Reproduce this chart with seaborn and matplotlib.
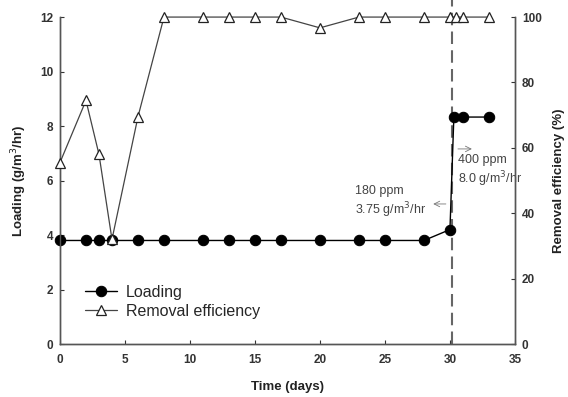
#%% IMPORTS
import numpy as np
import pandas as pd
import seaborn as sns
from matplotlib import pyplot as plt

#%% DATA
load_days = [0, 2, 3, 4, 6, 8, 11, 13, 15, 17, 20, 23, 25, 28, 30, 30.3, 31, 33]
loading = [3.8, 3.8, 3.8, 3.8, 3.8, 3.8, 3.8, 3.8, 3.8, 3.8, 3.8, 3.8, 3.8, 3.8,
           4.2, 8.33, 8.33, 8.33]

eff_days = [0, 2, 3, 4, 6, 8, 11, 13, 15, 17, 20, 23, 25, 28, 30, 30.5, 31, 33]
removal_eff = [55.5, 74.5, 58, 32, 69.5, 100, 100, 100, 100, 100, 96.7, 100,
               100, 100, 100, 100, 100, 100]

x_ticks = [0, 5, 10, 15, 20, 25, 30, 35]
left_ticks = [0, 2, 4, 6, 8, 10, 12]
right_ticks = [0, 20, 40, 60, 80, 100]
switch_day = 30.15

df_load = pd.DataFrame({"day": load_days, "loading": loading})
df_eff = pd.DataFrame({"day": eff_days, "eff": removal_eff})

#%% STYLE
sns.set_style("ticks")
plt.rcParams['font.family'] = ['Liberation Sans', 'DejaVu Sans']
axis_col = "#333333"

#%% PLOT
fig = plt.figure(figsize=(5.68, 3.97), dpi=100)
ax = fig.add_axes([0.1056, 0.1335, 0.801, 0.8235])
ax2 = ax.twinx()

sns.lineplot(data=df_load, x="day", y="loading", ax=ax, sort=False,
             color="black", lw=1.0, marker="o", markersize=7.5,
             markeredgecolor="black", markerfacecolor="black",
             label="Loading", legend=False, clip_on=False, zorder=4)
sns.lineplot(data=df_eff, x="day", y="eff", ax=ax2, sort=False,
             color="#444444", lw=0.9, marker="^", markersize=7.5,
             markeredgecolor="#222222", markerfacecolor="white",
             markeredgewidth=0.9, label="Removal efficiency", legend=False,
             clip_on=False, zorder=4)

ax.axvline(switch_day, ymin=0, ymax=1.052, color="#666666", lw=1.5,
           ls=(0, (6, 3)), zorder=1, clip_on=False)

ax.set_xlim(0, 35)
ax.set_ylim(0, 12)
ax2.set_ylim(0, 100)
ax.set_xticks(x_ticks)
ax.set_yticks(left_ticks)
ax2.set_yticks(right_ticks)

for a in (ax, ax2):
    a.tick_params(direction="in", length=3, width=0.8, colors=axis_col,
                  labelsize=8.5, pad=5)
    for lab in a.get_xticklabels() + a.get_yticklabels():
        lab.set_fontweight("bold")
    for s in a.spines.values():
        s.set_color("#555555")
        s.set_linewidth(1.0)
    a.spines["top"].set_visible(False)
ax.tick_params(axis="x", pad=7)

ax.set_xlabel("Time (days)", fontsize=9.5, fontweight="bold", color="#222222",
              labelpad=11)
ax.set_ylabel("Loading (g/m$^3$/hr)", fontsize=9.5, fontweight="bold",
              color="#222222", labelpad=8)
ax2.set_ylabel("Removal efficiency (%)", fontsize=9.5, fontweight="bold",
               color="#222222", labelpad=8)

# annotations
txt_col = "#444444"
ax.annotate("", xy=(28.5, 5.14), xytext=(29.9, 5.14),
            arrowprops=dict(arrowstyle="->", color="#777777", lw=0.6))
ax.text(22.7, 5.2, "180 ppm\n3.75 g/m$^3$/hr", fontsize=9, color=txt_col,
        va="center", ha="left", linespacing=1.2)
ax.annotate("", xy=(31.9, 7.16), xytext=(30.4, 7.16),
            arrowprops=dict(arrowstyle="->", color="#777777", lw=0.6))
ax.text(30.6, 6.33, "400 ppm\n8.0 g/m$^3$/hr", fontsize=9, color=txt_col,
        va="center", ha="left", linespacing=1.3)

h1, l1 = ax.get_legend_handles_labels()
h2, l2 = ax2.get_legend_handles_labels()
ax.legend(h1 + h2, l1 + l2, loc="upper left", bbox_to_anchor=(0.04, 0.2),
          frameon=False, fontsize=11.5, handlelength=2.0, handletextpad=0.6,
          labelspacing=0.25, borderaxespad=0)

fig.savefig("out.png", dpi=100)
